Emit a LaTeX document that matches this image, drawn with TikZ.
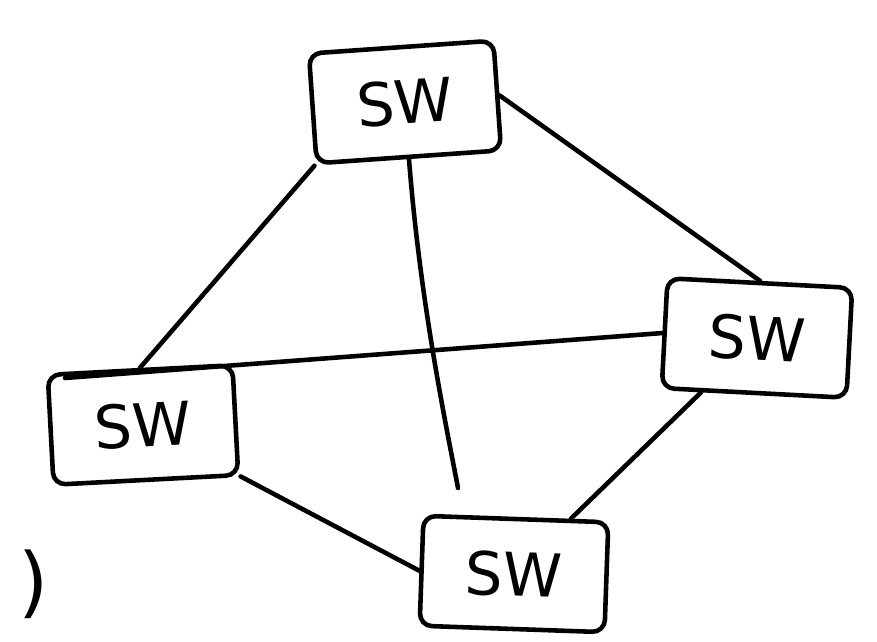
\documentclass[tikz,border=0pt]{standalone}
\usepackage{fontspec}
\setsansfont{DejaVu Sans}
\usepackage{tikz}
\usetikzlibrary{arrows.meta,calc,positioning}
\tikzset{
  swBox/.style={draw, line width=2.6pt, rounded corners=7pt, fill=white, align=center, font=\sffamily\fontsize{34}{36}\selectfont, minimum width=3.7cm, minimum height=2.2cm, inner sep=2pt},
  swLink/.style={line width=2.6pt},
  swMark/.style={font=\sffamily\fontsize{44}{44}\selectfont, inner sep=0pt}
}
\begin{document}
\begin{tikzpicture}[x=0.02cm, y=-0.02cm, line cap=round]
      \useasboundingbox (0,0) rectangle (877,642);
      \node[swBox, rotate=4] (swTop) at (405,102) {SW};
      \node[swBox, rotate=-3] (swRight) at (757,338) {SW};
      \node[swBox, rotate=3] (swLeft) at (143,425) {SW};
      \node[swBox, rotate=-2] (swBottom) at (514,574) {SW};
      \coordinate (loose) at (458,488);
      \node[swMark] (paren) at (34,584) {)};
      \draw[swLink] (swTop.south west) -- (swLeft.north);
      \draw[swLink] (swTop.east) -- (swRight.north);
      \draw[swLink] (swTop.south) .. controls (420,300) and (445,420) .. (loose);
      \draw[swLink] (65,378) -- (swRight.west);
      \draw[swLink] (swLeft) -- (swBottom.west);
      \draw[swLink] (swRight) -- (swBottom);
    \end{tikzpicture}
\end{document}
